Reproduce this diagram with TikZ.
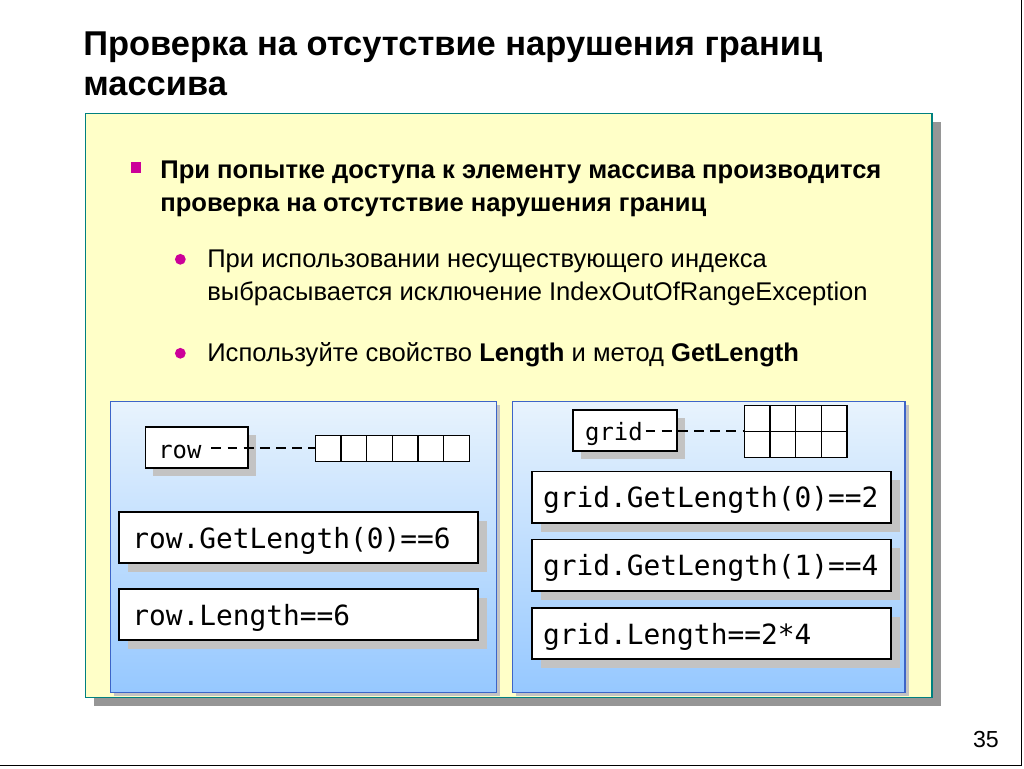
\documentclass[tikz,border=0pt]{standalone}
\usepackage{fontspec}
\setmainfont{Liberation Sans}
\newfontfamily\codefont{DejaVu Sans Mono}
\usepackage{tikz}
\usetikzlibrary{shadows, positioning, calc}
\definecolor{slidecolor}{RGB}{255, 255, 200}
\definecolor{slideedge}{RGB}{0, 128, 128}
\definecolor{slideshade}{RGB}{150, 150, 150}
\definecolor{paneltop}{RGB}{232, 243, 253}
\definecolor{panelbottom}{RGB}{150, 200, 255}
\definecolor{paneledge}{RGB}{60, 100, 200}
\definecolor{boxshade}{RGB}{195, 195, 195}
\definecolor{bulletcolor}{RGB}{204, 0, 153}

\begin{document}
\begin{tikzpicture}[
    x=0.025cm, y=-0.025cm,
    slide/.style={draw=slideedge, line width=1pt, fill=slidecolor, minimum width=21.175cm, minimum height=14.6cm,
        drop shadow={shadow xshift=0.225cm, shadow yshift=-0.225cm, fill=slideshade, opacity=1}},
    panel/.style={draw=paneledge, line width=0.9pt, top color=paneltop, bottom color=panelbottom, minimum height=7.275cm,
        drop shadow={shadow xshift=0.1cm, shadow yshift=-0.1cm, fill=boxshade, opacity=1}},
    codebox/.style={draw, line width=1.2pt, fill=white, minimum width=8.975cm, minimum height=1.28cm,
        drop shadow={shadow xshift=0.22cm, shadow yshift=-0.22cm, fill=boxshade, opacity=1}},
    varbox/.style={draw, line width=1.2pt, fill=white, minimum height=1.025cm,
        drop shadow={shadow xshift=0.2cm, shadow yshift=-0.2cm, fill=boxshade, opacity=1}},
    cell/.style={draw, line width=0.9pt, fill=white, minimum width=0.643cm, minimum height=0.65cm, inner sep=0pt},
    code/.style={font=\codefont\fontsize{19.8}{22}\selectfont, anchor=base west, inner sep=0pt},
    varname/.style={font=\codefont\fontsize{17}{20}\selectfont, anchor=base west, inner sep=0pt},
    link/.style={line width=1.3pt, dash pattern=on 7pt off 4.5pt},
    txt/.style={anchor=base west, inner sep=0pt, font=\fontsize{18.2}{22}\selectfont},
    headline/.style={txt, font=\bfseries\fontsize{24.5}{29}\selectfont},
    every node/.style={outer sep=0pt}
]
    % Page
    \fill[white] (0,0) rectangle (1024,768);
    \draw[line width=0.6pt] (1021,0) -- (1021,765) -- (0,765);

    % Title
    \node[headline] (title1) at (83,55) {Проверка на отсутствие нарушения границ};
    \node[headline] (title2) at (83,95) {массива};

    % Slide body
    \node[slide] (body) at (508.5,405) {};

    % Bullets
    \node[fill=bulletcolor, minimum size=0.26cm, inner sep=0pt] (sq) at (135.5,167) {};
    \node[txt, font=\bfseries\fontsize{18.2}{22}\selectfont] (b1) at (160,178) {При попытке доступа к элементу массива производится};
    \node[txt, font=\bfseries\fontsize{18.2}{22}\selectfont] (b1b) at (160,211) {проверка на отсутствие нарушения границ};

    \node[circle, fill=bulletcolor, minimum size=0.27cm, inner sep=0pt] (dot1) at (180,259) {};
    \node[txt] (s1) at (207,267) {При использовании несуществующего индекса};
    \node[txt] (s1b) at (207,300) {выбрасывается исключение IndexOutOfRangeException};
    \node[circle, fill=bulletcolor, minimum size=0.27cm, inner sep=0pt] (dot2) at (180,353) {};
    \node[txt] (s2) at (207,361) {Используйте свойство \textbf{Length} и метод \textbf{GetLength}};

    % Left panel: one-dimensional array
    \node[panel, minimum width=9.65cm] (left) at (303,546.5) {};
    \node[varbox, minimum width=2.575cm] (rowbox) at (196.5,447.5) {};
    \node[varname] (row) at (158,458) {row};
    \foreach \i in {1,...,6}
        \node[cell] (r\i) at ({315+25.67*(\i-0.5)},448) {};
    \coordinate (rowlink) at ([xshift=7pt]row.east);
    \draw[link] (rowlink |- r1.west) -- (r1.west);
    \node[codebox] (rowlen0) at (298.5,537.5) {};
    \node[code] (t1) at (132,548) {row.GetLength(0)==6};
    \node[codebox] (rowlen) at (298.5,614.5) {};
    \node[code] (t2) at (132,625) {row.Length==6};

    % Right panel: two-dimensional array
    \node[panel, minimum width=9.825cm] (right) at (708.5,546.5) {};
    \node[varbox, minimum width=2.6cm] (gridbox) at (625,430.5) {};
    \node[varname] (grid) at (585,440) {grid};
    \foreach \i in {1,...,4}
        \foreach \j in {1,2}
            \node[cell] (g\j\i) at ({744+25.75*(\i-0.5)},{405+26*(\j-0.5)}) {};
    \coordinate (gridlink) at ([xshift=2pt]grid.east);
    \draw[link] (gridlink |- g11.south west) -- (g11.south west);
    \node[codebox] (gridlen0) at (711.5,497) {};
    \node[code] (t3) at (543,507.5) {grid.GetLength(0)==2};
    \node[codebox] (gridlen1) at (711.5,565) {};
    \node[code] (t4) at (543,575.5) {grid.GetLength(1)==4};
    \node[codebox] (gridlen) at (711.5,633.5) {};
    \node[code] (t5) at (543,644) {grid.Length==2*4};

    % Page number
    \node[txt, font=\fontsize{16.5}{20}\selectfont] (num) at (973,747) {35};
\end{tikzpicture}
\end{document}
